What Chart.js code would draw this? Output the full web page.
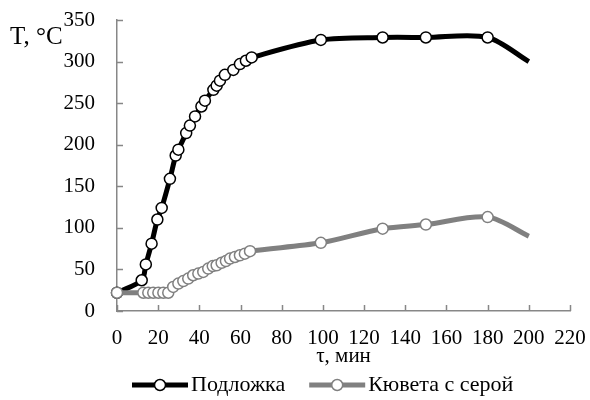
<!DOCTYPE html>
<html><head><meta charset="utf-8">
<script src="https://cdn.jsdelivr.net/npm/chart.js@4.4.1/dist/chart.umd.min.js"></script>
<style>html,body{margin:0;padding:0;background:#fff}</style>
</head><body>
<canvas id="c" width="590" height="400"></canvas>
<script>
const xTicks = [0, 20, 40, 60, 80, 100, 120, 140, 160, 180, 200, 220];
const yTicks = [0, 50, 100, 150, 200, 250, 300, 350];
const seriesNames = ['Подложка', 'Кювета с серой'];
const substrateTime = [0, 12, 14, 16.8, 19.6, 21.7, 25.7, 28.5, 29.8, 33.6, 35.4, 37.9, 41, 42.7, 46.8, 48.4, 50, 52.4, 56.5, 59.7, 62.6, 65.4, 99, 129, 150, 180, 200];
const substrateTemp = [22, 37, 56, 81, 110, 124, 159, 187, 194, 214, 223, 234, 246, 253, 266, 271, 277, 284, 290, 297, 301, 305, 326, 329, 329, 329, 300];
const cuvetteTime = [0, 12.8, 15.2, 17.6, 20.1, 22.5, 24.9, 27.3, 29.8, 32.2, 34.6, 37, 39.5, 41.9, 44.3, 46.5, 48.4, 50.8, 52.9, 54.9, 57.3, 59.7, 62.1, 64.6, 99, 129, 150, 180, 200];
const cuvetteTemp = [22, 22, 22, 22, 22, 22, 22, 29, 33, 36, 39, 43, 45, 47, 51, 54, 55, 58, 60, 63, 65, 67, 69, 72, 82, 99, 104, 113, 90];

const FONT = 'Liberation Serif, Times New Roman, serif';
const AXIS = '#878787';
const BLACK = '#000000';
const GREY = '#808080';

const decor = {
  id: 'decor',
  beforeDatasetsDraw(chart) {
    const ctx = chart.ctx, xs = chart.scales.x, ys = chart.scales.y, a = chart.chartArea;
    ctx.save();
    ctx.strokeStyle = AXIS; ctx.lineWidth = 1.5;
    xTicks.forEach(v => {
      const px = Math.round(xs.getPixelForValue(v)) + 0.5;
      ctx.beginPath(); ctx.moveTo(px, a.bottom); ctx.lineTo(px, a.bottom - 6); ctx.stroke();
    });
    yTicks.forEach(v => {
      const py = Math.round(ys.getPixelForValue(v)) + 0.5;
      ctx.beginPath(); ctx.moveTo(a.left, py); ctx.lineTo(a.left + 6, py); ctx.stroke();
    });
    ctx.restore();
  },
  afterDraw(chart) {
    const ctx = chart.ctx;
    ctx.save();
    ctx.fillStyle = '#000';
    ctx.font = '25px ' + FONT;
    ctx.textAlign = 'left'; ctx.textBaseline = 'alphabetic';
    ctx.fillText('T, °C', 10, 44);
    ctx.font = '22px ' + FONT;
    ctx.textBaseline = 'middle';
    const ly = 385;
    let x = 132;
    chart.data.datasets.forEach((d, i) => {
      ctx.strokeStyle = d.borderColor; ctx.lineWidth = 5;
      ctx.beginPath(); ctx.moveTo(x, ly); ctx.lineTo(x + 56, ly); ctx.stroke();
      ctx.beginPath(); ctx.arc(x + 28, ly, 5.5, 0, Math.PI * 2);
      ctx.fillStyle = '#fff'; ctx.fill();
      ctx.lineWidth = 1.5; ctx.stroke();
      ctx.fillStyle = '#000';
      ctx.fillText(d.label, x + 59, ly);
      x += 59 + ctx.measureText(d.label).width + 24;
    });
    ctx.restore();
  }
};

new Chart(document.getElementById('c'), {
  type: 'line',
  data: {
    datasets: [
      {
        label: seriesNames[0],
        data: substrateTime.map((t, i) => ({x: t, y: substrateTemp[i]})),
        borderColor: BLACK, borderWidth: 5,
        pointBackgroundColor: '#fff', pointBorderColor: BLACK, pointBorderWidth: 1.5,
        pointRadius: substrateTime.map((t, i) => i === substrateTime.length - 1 ? 0 : 5.5),
        tension: 0.3, order: 1, clip: false
      },
      {
        label: seriesNames[1],
        data: cuvetteTime.map((t, i) => ({x: t, y: cuvetteTemp[i]})),
        borderColor: GREY, borderWidth: 5,
        pointBackgroundColor: '#fff', pointBorderColor: GREY, pointBorderWidth: 1.5,
        pointRadius: cuvetteTime.map((t, i) => i === cuvetteTime.length - 1 ? 0 : 5.5),
        tension: 0.3, order: 0, clip: false
      }
    ]
  },
  options: {
    responsive: false,
    animation: false,
    layout: {padding: {top: 20, right: 20, left: 0, bottom: 31}},
    scales: {
      x: {
        type: 'linear', min: 0, max: 220,
        afterBuildTicks: s => { s.ticks = xTicks.map(v => ({value: v})); },
        afterFit: s => { s.height = 58; s.paddingRight = 0; s.paddingLeft = 0; },
        grid: {display: true, drawOnChartArea: false, drawTicks: false},
        border: {display: true, color: AXIS, width: 1.5},
        ticks: {color: '#000', font: {family: FONT, size: 21}, padding: 15, maxRotation: 0, autoSkip: false},
        title: {display: true, text: 'τ, мин', color: '#000', font: {family: FONT, size: 21}, padding: {top: 0, bottom: 0}}
      },
      y: {
        min: 0, max: 350,
        afterBuildTicks: s => { s.ticks = yTicks.map(v => ({value: v})); },
        afterFit: s => { s.width = 117; s.paddingTop = 12; s.paddingBottom = 12; },
        grid: {display: true, drawOnChartArea: false, drawTicks: false},
        border: {display: true, color: AXIS, width: 1.5},
        ticks: {color: '#000', font: {family: FONT, size: 21}, padding: 22}
      }
    },
    plugins: {
      tooltip: {enabled: false},
      legend: {display: false}
    }
  },
  plugins: [decor]
});
</script>
</body></html>
